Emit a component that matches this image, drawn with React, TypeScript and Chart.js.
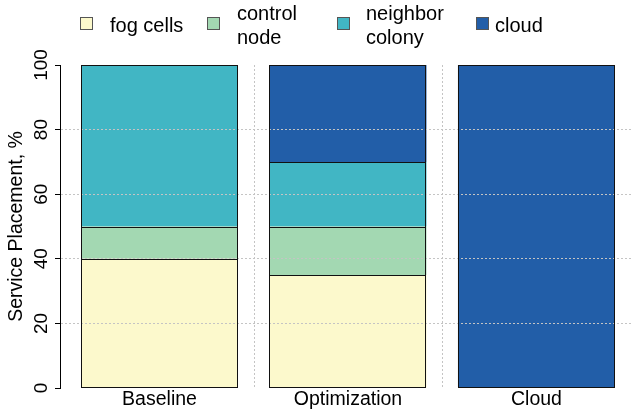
import React, { useEffect, useRef } from "react";
import { Chart, registerables } from "chart.js";

Chart.register(...registerables);

const categories = ["Baseline", "Optimization", "Cloud"];
const seriesNames = ["fog cells", "control node", "neighbor colony", "cloud"];
const fogCells = [40, 35, 0];
const controlNode = [10, 15, 0];
const neighborColony = [50, 20, 0];
const cloud = [0, 30, 100];
const yTickStep = 20;
const yMax = 100;
const yTitle = "Service Placement, %";
const legendLines = [["fog cells"], ["control", "node"], ["neighbor", "colony"], ["cloud"]];
const colors = ["#FCF9CC", "#A3D8B2", "#41B6C4", "#225EA8"];

const FONT = "'Liberation Sans', Arial, Helvetica, sans-serif";
const GRID = "#C4C4C4";

const separators = {
  id: "separators",
  beforeDatasetsDraw(chart: any) {
    const { ctx, chartArea, scales } = chart;
    const xs = scales.x;
    ctx.save();
    ctx.strokeStyle = GRID;
    ctx.lineWidth = 1;
    ctx.setLineDash([2, 2]);
    for (let i = 0; i < categories.length - 1; i++) {
      const px = Math.round(xs.getPixelForValue(i + 0.5)) + 0.5;
      ctx.beginPath();
      ctx.moveTo(px, chartArea.top);
      ctx.lineTo(px, chartArea.bottom);
      ctx.stroke();
    }
    ctx.restore();
  },
};

const barOutlines = {
  id: "barOutlines",
  afterDraw(chart: any) {
    const { ctx } = chart;
    ctx.save();
    ctx.strokeStyle = "#111";
    ctx.lineWidth = 1;
    ctx.setLineDash([]);
    chart.data.datasets.forEach((_: any, k: number) => {
      const meta = chart.getDatasetMeta(k);
      meta.data.forEach((el: any) => {
        const { x, y, base, width } = el.getProps(["x", "y", "base", "width"], true);
        if (Math.abs(base - y) < 0.5) return;
        const l = Math.round(x - width / 2) + 0.5;
        const r = Math.round(x + width / 2) - 0.5;
        const t = Math.round(Math.min(y, base)) + 0.5;
        const b = Math.min(Math.round(Math.max(y, base)), Math.round(chart.chartArea.bottom) - 1) + 0.5;
        ctx.strokeRect(l, t, r - l, b - t);
      });
    });
    ctx.restore();
  },
};

export default function App() {
  const canvasRef = useRef<HTMLCanvasElement>(null);

  useEffect(() => {
    const series = [fogCells, controlNode, neighborColony, cloud];
    const chart = new Chart(canvasRef.current as HTMLCanvasElement, {
      type: "bar",
      data: {
        datasets: series.map((vals, k) => ({
          label: seriesNames[k],
          data: vals.map((v, i) => ({ x: i, y: v })),
          backgroundColor: colors[k],
          borderWidth: 0,
          borderSkipped: false,
          inflateAmount: 0,
          barPercentage: 0.833,
          categoryPercentage: 1,
        })),
      },
      options: {
        responsive: false,
        animation: false,
        layout: { padding: { top: 65, left: 0, right: 0, bottom: 0 } },
        plugins: { legend: { display: false }, tooltip: { enabled: false } },
        scales: {
          x: {
            type: "linear",
            min: -0.528,
            max: 2.507,
            bounds: "data",
            offset: false,
            stacked: true,
            afterBuildTicks: (s: any) => {
              s.ticks = categories.map((_, i) => ({ value: i }));
            },
            afterFit: (s: any) => {
              s.height = 25;
            },
            grid: { display: false, drawTicks: false, offset: false },
            border: { display: false },
            ticks: {
              callback: (v: any) => categories[v] ?? "",
              font: { family: FONT, size: 19.5, lineHeight: 1 },
              color: "#000",
              padding: 2,
              maxRotation: 0,
              minRotation: 0,
              autoSkip: false,
            },
          },
          y: {
            min: 0,
            max: yMax,
            stacked: true,
            afterFit: (s: any) => {
              s.width = 60;
            },
            grid: {
              z: 1,
              color: (c: any) =>
                c.tick && (c.tick.value === 0 || c.tick.value === yMax) ? "rgba(0,0,0,0)" : GRID,
              tickColor: "#000",
              tickLength: 5,
              tickBorderDash: [],
              lineWidth: 1,
            },
            border: { display: true, color: "#000", width: 1, dash: [2, 2], z: 1 },
            ticks: {
              stepSize: yTickStep,
              font: { family: FONT, size: 19 },
              color: "#000",
              minRotation: 90,
              maxRotation: 90,
              crossAlign: "center",
              padding: -3,
            },
            title: {
              display: true,
              text: yTitle,
              font: { family: FONT, size: 19.5 },
              color: "#000",
              padding: { top: 5, bottom: 0 },
            },
          },
        },
      } as any,
      plugins: [separators, barOutlines],
    });
    return () => chart.destroy();
  }, []);

  const boxX = [80, 207, 337, 476];
  const textX = [110, 237, 366, 495];

  return (
    <div style={{ position: "absolute", left: 0, top: 0, width: 632, height: 413, background: "#fff", fontFamily: FONT }}>
      <canvas ref={canvasRef} width={632} height={413} style={{ position: "absolute", left: 0, top: 0 }} />
      {legendLines.map((lines, k) => (
        <React.Fragment key={k}>
          <div
            style={{
              position: "absolute",
              left: boxX[k],
              top: 17,
              width: 11,
              height: 11,
              background: colors[k],
              border: "1px solid #555",
            }}
          />
          <div
            style={{
              position: "absolute",
              left: textX[k],
              top: lines.length > 1 ? 0.9 : 12.9,
              fontSize: 20,
              lineHeight: "24px",
              color: "#000",
              whiteSpace: "nowrap",
            }}
          >
            {lines.map((l, j) => (
              <div key={j}>{l}</div>
            ))}
          </div>
        </React.Fragment>
      ))}
    </div>
  );
}
